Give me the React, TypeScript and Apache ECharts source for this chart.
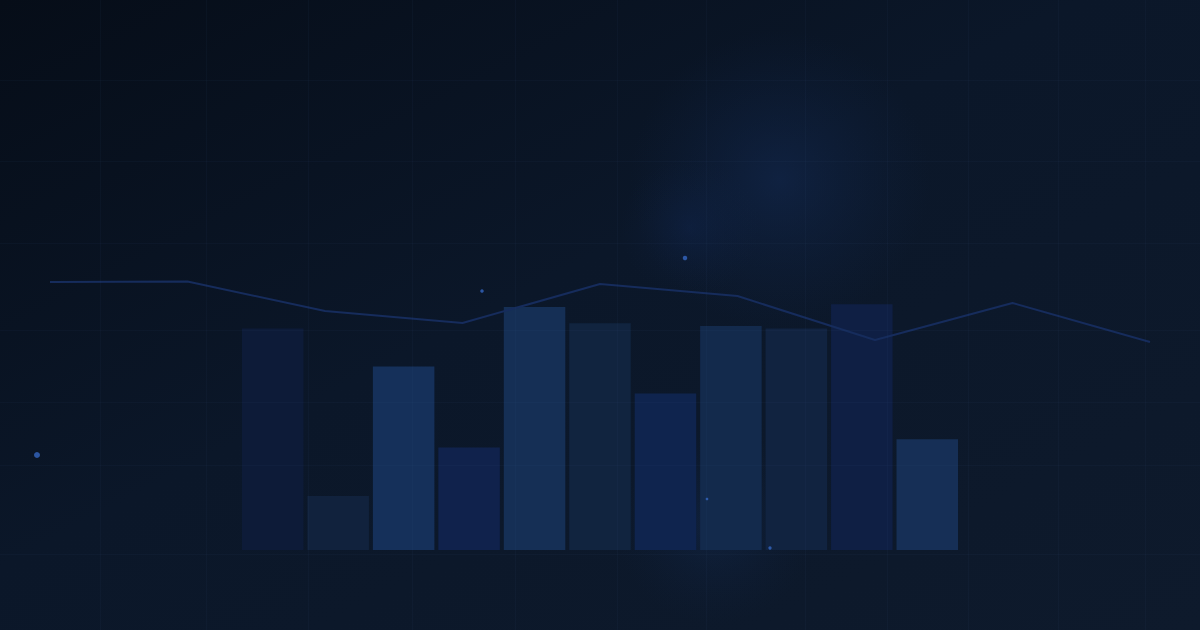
import React, { useEffect, useRef } from 'react';
import * as echarts from 'echarts';

// bar chart (11 columns)
const barCategories = ['1', '2', '3', '4', '5', '6', '7', '8', '9', '10', '11'];
const barValues = [82, 20, 68, 38, 90, 84, 58, 83, 82, 91, 41];
const barColors = [
  '#0d1b38', '#11223d', '#15305a', '#10224c', '#152f55', '#11243f',
  '#0f244e', '#132a4c', '#112340', '#0f1f44', '#162f56',
];

// trend line (9 points)
const lineCategories = ['a', 'b', 'c', 'd', 'e', 'f', 'g', 'h', 'i'];
const lineValues = [68, 68.5, 39, 27, 66, 54, 10, 47, 8];

// floating dots [x, y, size]
const dots: [number, number, number][] = [
  [37, 455, 6],
  [482, 291, 3.5],
  [685, 258, 4.5],
  [707, 499, 2.7],
  [770, 548, 3.3],
];

// faint background grid
const gridXs = [100, 206, 308, 412, 515, 617, 706, 805, 887, 968, 1058, 1145];
const gridYs = [80, 161, 243, 330, 402, 465, 554];

const hidden = { show: false };

const App: React.FC = () => {
  const chartRef = useRef<HTMLDivElement>(null);

  useEffect(() => {
    if (!chartRef.current) return;
    document.body.style.margin = '0';

    const chart = echarts.init(chartRef.current, null, { renderer: 'svg' });

    const glow = (cx: number, cy: number, r: number, color: string) => ({
      type: 'circle',
      z: -10,
      silent: true,
      shape: { cx, cy, r },
      style: {
        fill: new echarts.graphic.RadialGradient(0.5, 0.5, 0.5, [
          { offset: 0, color },
          { offset: 1, color: 'rgba(16,36,72,0)' },
        ]),
      },
    });

    const option: echarts.EChartsOption = {
      animation: false,
      backgroundColor: new echarts.graphic.LinearGradient(0, 0, 1, 1, [
        { offset: 0, color: '#060d18' },
        { offset: 0.45, color: '#0b1729' },
        { offset: 1, color: '#0e1a2c' },
      ]),
      graphic: [
        glow(780, 180, 150, 'rgba(20,44,88,0.5)'),
        glow(690, 228, 70, 'rgba(18,42,92,0.3)'),
        glow(715, 525, 100, 'rgba(24,54,104,0.3)'),
      ],
      grid: [
        { left: 0, top: 0, width: 1200, height: 630 },
        { left: 240, width: 720, bottom: 80, height: 270 },
        { left: 50, width: 1100, top: 250, height: 100 },
      ],
      xAxis: [
        { gridIndex: 0, type: 'value', min: 0, max: 1200, ...hidden },
        {
          gridIndex: 1,
          type: 'category',
          data: barCategories,
          ...hidden,
        },
        {
          gridIndex: 2,
          type: 'category',
          data: lineCategories,
          boundaryGap: false,
          ...hidden,
        },
      ],
      yAxis: [
        { gridIndex: 0, type: 'value', min: 0, max: 630, inverse: true, ...hidden },
        { gridIndex: 1, type: 'value', min: 0, max: 100, ...hidden },
        { gridIndex: 2, type: 'value', min: 0, max: 100, ...hidden },
      ],
      series: [
        {
          type: 'scatter',
          xAxisIndex: 0,
          yAxisIndex: 0,
          z: 0,
          silent: true,
          data: [],
          markLine: {
            silent: true,
            symbol: 'none',
            label: { show: false },
            lineStyle: { color: 'rgba(60,95,150,0.06)', width: 1, type: 'solid' },
            data: [
              ...gridXs.map((x) => ({ xAxis: x })),
              ...gridYs.map((y) => ({ yAxis: y })),
            ],
          },
        },
        {
          type: 'bar',
          xAxisIndex: 1,
          yAxisIndex: 1,
          barCategoryGap: '6%',
          silent: true,
          data: barValues.map((v, i) => ({
            value: v,
            itemStyle: { color: barColors[i] },
          })),
        },
        {
          type: 'line',
          xAxisIndex: 2,
          yAxisIndex: 2,
          z: 3,
          silent: true,
          symbol: 'none',
          lineStyle: { color: '#162c5c', width: 2 },
          data: lineValues,
        },
        {
          type: 'scatter',
          xAxisIndex: 0,
          yAxisIndex: 0,
          z: 4,
          silent: true,
          symbol: 'circle',
          itemStyle: { color: '#3566c2' },
          symbolSize: (d: number[]) => d[2],
          data: dots,
        },
      ],
    };

    chart.setOption(option);

    return () => {
      chart.dispose();
    };
  }, []);

  return (
    <div
      ref={chartRef}
      style={{ position: 'fixed', left: 0, top: 0, width: '1200px', height: '630px' }}
    />
  );
};

export default App;
